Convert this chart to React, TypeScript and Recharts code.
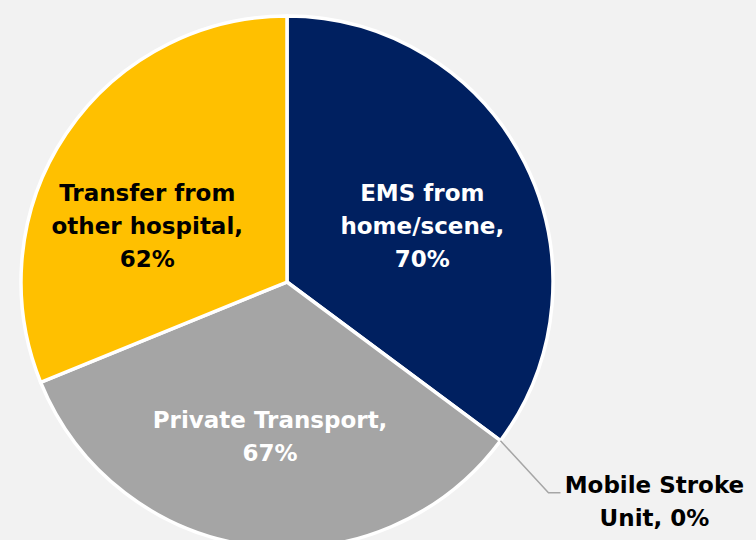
import { Cell, Pie, PieChart } from "recharts";

const CATEGORIES = [
  "EMS from home/scene",
  "Mobile Stroke Unit",
  "Private Transport",
  "Transfer from other hospital",
];
const VALUES = [70, 0, 67, 62];
// label text as wrapped in the chart, {v} becomes the value
const LABEL_LINES = [
  ["EMS from", "home/scene,", "{v}%"],
  ["Mobile Stroke", "Unit, {v}%"],
  ["Private Transport,", "{v}%"],
  ["Transfer from", "other hospital,", "{v}%"],
];
const COLORS = ["#002060", "#7f7f7f", "#a5a5a5", "#ffc000"];
const TEXT_COLORS = ["#ffffff", "#000000", "#ffffff", "#000000"];

// small hand nudges so labels sit where the original placed them
const NUDGE = [
  { dx: 1, dy: 11 },
  { dx: 0, dy: 0 },
  { dx: 2, dy: 5 },
  { dx: -15, dy: 28 },
];

const FONT = "'DejaVu Sans', Verdana, sans-serif";
const FONT_SIZE = 23;
const LINE_H = 33;
const CAP = 16.5;
const RAD = Math.PI / 180;

const data = CATEGORIES.map((name, i) => ({ name, value: VALUES[i] }));

type LabelProps = {
  cx: number;
  cy: number;
  midAngle: number;
  outerRadius: number;
  index: number;
  value: number;
};

function renderLabel(p: LabelProps) {
  const { cx, cy, midAngle, outerRadius, index, value } = p;
  const lines = LABEL_LINES[index].map((l) => l.replace("{v}", String(value)));
  const cos = Math.cos(-midAngle * RAD);
  const sin = Math.sin(-midAngle * RAD);

  if (value === 0) {
    // outside label with an elbow leader line
    const x0 = cx + outerRadius * cos;
    const y0 = cy + outerRadius * sin;
    const x1 = x0 + 48;
    const y1 = y0 + 52;
    const x2 = x1 + 12;
    return (
      <g key={`lbl-${index}`}>
        <polyline
          points={`${x0},${y0} ${x1},${y1} ${x2},${y1}`}
          fill="none"
          stroke="#a6a6a6"
          strokeWidth={1.5}
        />
        {lines.map((l, k) => (
          <text
            key={k}
            x={x2 + 94}
            y={y1 + k * LINE_H}
            textAnchor="middle"
            fill={TEXT_COLORS[index]}
            fontFamily={FONT}
            fontWeight="bold"
            fontSize={FONT_SIZE}
          >
            {l}
          </text>
        ))}
      </g>
    );
  }

  const r = outerRadius * 0.565;
  const x = cx + r * cos + NUDGE[index].dx;
  const y = cy + r * sin + NUDGE[index].dy;
  const first = y - ((lines.length - 1) * LINE_H) / 2 + CAP / 2;
  return (
    <g key={`lbl-${index}`}>
      {lines.map((l, k) => (
        <text
          key={k}
          x={x}
          y={first + k * LINE_H}
          textAnchor="middle"
          fill={TEXT_COLORS[index]}
          fontFamily={FONT}
          fontWeight="bold"
          fontSize={FONT_SIZE}
        >
          {l}
        </text>
      ))}
    </g>
  );
}

export default function App() {
  return (
    <div
      style={{
        position: "absolute",
        top: 0,
        left: 0,
        width: 756,
        height: 540,
        background: "#f2f2f2",
        overflow: "hidden",
      }}
    >
      <PieChart width={756} height={540} margin={{ top: 0, right: 0, bottom: 0, left: 0 }}>
        <Pie
          data={data}
          dataKey="value"
          nameKey="name"
          cx={287}
          cy={282}
          outerRadius={266}
          startAngle={90}
          endAngle={-270}
          stroke="#ffffff"
          strokeWidth={3.5}
          label={renderLabel}
          labelLine={false}
          isAnimationActive={false}
        >
          {data.map((_d, i) => (
            <Cell key={i} fill={COLORS[i]} />
          ))}
        </Pie>
      </PieChart>
    </div>
  );
}
